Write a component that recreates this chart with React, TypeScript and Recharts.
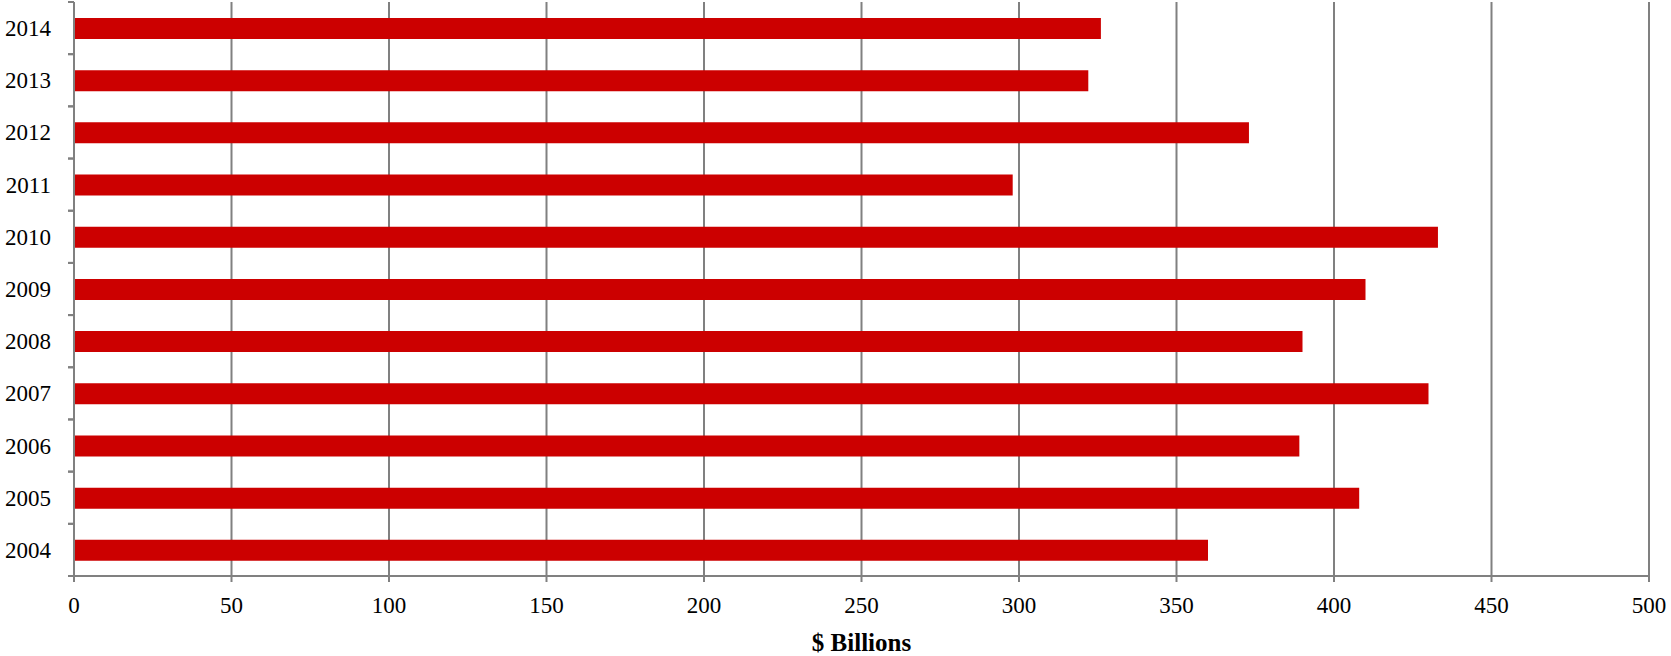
import { BarChart, Bar, CartesianGrid, XAxis, YAxis } from "recharts";

const years = ["2004", "2005", "2006", "2007", "2008", "2009", "2010", "2011", "2012", "2013", "2014"];
const billions = [360, 408, 389, 430, 390, 410, 433, 298, 373, 322, 326];
const xTicks = [0, 50, 100, 150, 200, 250, 300, 350, 400, 450, 500];

const data = years.map((year, i) => ({ year, value: billions[i] }));

const W = 1671;
const H = 656;
const TOP = 2;
const BOTTOM = 80;
const AXIS_W = 74;
const FONT = "'Liberation Serif', 'Times New Roman', serif";
const GRAY = "#808080";

const band = (H - TOP - BOTTOM) / years.length;

// Excel puts category ticks on band edges; label sits in the middle
function YearTick(props: any) {
  const { x, y, payload } = props;
  const right = x + 17;
  return (
    <g>
      <line x1={right} x2={right + 6} y1={y - band / 2} y2={y - band / 2} stroke={GRAY} strokeWidth={2} />
      <line x1={right} x2={right + 6} y1={y + band / 2} y2={y + band / 2} stroke={GRAY} strokeWidth={2} />
      <text x={x} y={y} dy={8} textAnchor="end" fontSize={23} fontFamily={FONT} fill="#000">
        {payload.value}
      </text>
    </g>
  );
}

export default function App() {
  return (
    <div style={{ position: "absolute", left: 0, top: 0, background: "#fff" }}>
      <BarChart
        width={W}
        height={H}
        data={data}
        layout="vertical"
        margin={{ top: TOP, right: 22, bottom: 0, left: 0 }}
        barSize={21}
      >
        <CartesianGrid horizontal={false} stroke={GRAY} strokeWidth={2} />
        <XAxis
          type="number"
          domain={[0, 500]}
          ticks={xTicks}
          interval={0}
          height={BOTTOM}
          stroke={GRAY}
          strokeWidth={2}
          tickSize={6}
          tickMargin={15}
          tick={{ fill: "#000", fontSize: 23, fontFamily: FONT }}
          label={{
            value: "$ Billions",
            position: "insideBottom",
            offset: 5,
            fill: "#000",
            fontSize: 25,
            fontWeight: "bold",
            fontFamily: FONT,
          }}
        />
        <YAxis
          type="category"
          dataKey="year"
          reversed
          width={AXIS_W}
          stroke={GRAY}
          strokeWidth={2}
          tickLine={false}
          tickSize={6}
          tickMargin={17}
          interval={0}
          tick={<YearTick />}
        />
        <Bar dataKey="value" fill="#cc0000" isAnimationActive={false} />
      </BarChart>
    </div>
  );
}
